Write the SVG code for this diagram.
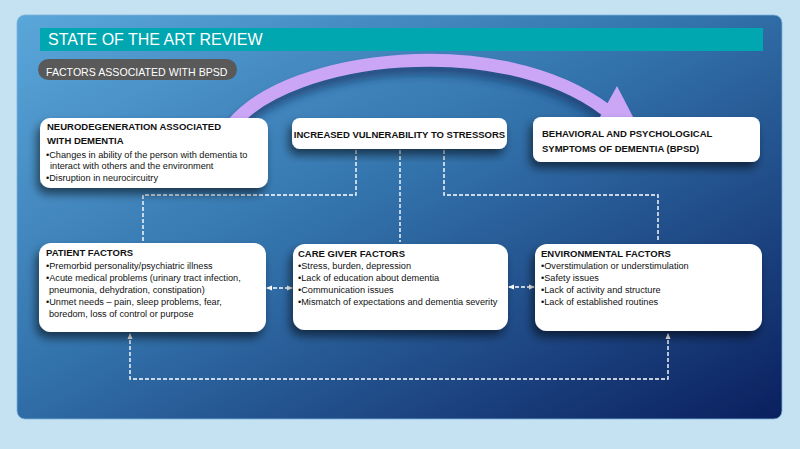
<svg xmlns="http://www.w3.org/2000/svg" width="800" height="449" viewBox="0 0 800 449">
<defs>
<linearGradient id="bg" x1="0" y1="0" x2="1" y2="1">
<stop offset="0" stop-color="#5AA7DA"/>
<stop offset="0.45" stop-color="#3373AC"/>
<stop offset="1" stop-color="#0A1F5E"/>
</linearGradient>
<filter id="sh" x="-20%" y="-30%" width="140%" height="170%">
<feGaussianBlur in="SourceAlpha" stdDeviation="5"/>
<feOffset dx="-3" dy="6" result="b"/>
<feComponentTransfer><feFuncA type="linear" slope="0.55"/></feComponentTransfer>
<feMerge><feMergeNode/><feMergeNode in="SourceGraphic"/></feMerge>
</filter>
<filter id="ash" x="-20%" y="-50%" width="140%" height="200%">
<feGaussianBlur stdDeviation="4"/>
</filter>
<marker id="ah" viewBox="0 0 6 6" refX="5" refY="3" markerWidth="6" markerHeight="6" orient="auto-start-reverse" markerUnits="userSpaceOnUse">
<path d="M0,0.5 L6,3 L0,5.5 z" fill="#FFFFFF"/>
</marker>
<style>
.box{fill:#FFFFFF;filter:url(#sh)}
.hd{font-family:"Liberation Sans",Arial,sans-serif;font-weight:bold;font-size:9.5px;fill:#111111}
.tx{font-family:"Liberation Sans",Arial,sans-serif;font-size:9.2px;fill:#111111}
.dash{fill:none;stroke:#FFFFFF;stroke-width:1.4;stroke-dasharray:4 2}
</style>
</defs>
<rect x="0" y="0" width="800" height="449" fill="#C5E2F3"/>
<rect x="17" y="15" width="765" height="404" rx="8" fill="url(#bg)" stroke="#7FB3DA" stroke-width="0.8"/>
<g id="title">
<rect x="40" y="28" width="723" height="23" fill="#00A6B0"/>
<text x="48" y="45" font-family="'Liberation Sans',Arial,sans-serif" font-size="16" fill="#FFFFFF">STATE OF THE ART REVIEW</text>
</g>
<g id="subtitle">
<rect x="38" y="59" width="199" height="21" rx="10.5" fill="#595959"/>
<text x="46" y="76" font-family="'Liberation Sans',Arial,sans-serif" font-size="10.6" fill="#FFFFFF">FACTORS ASSOCIATED WITH BPSD</text>
</g>
<g id="big-arrow">
<path d="M231 132 C290 63,500 38,606 118" fill="none" stroke="#0E2F5E" stroke-opacity="0.6" stroke-width="13" filter="url(#ash)"/>
<path d="M233 124 C290 55,500 30,606 110" fill="none" stroke="#CBA6F6" stroke-width="13"/>
<polygon points="617,86 645,140 590,135" fill="#CBA6F6"/>
</g>
<g id="connectors">
<path class="dash" d="M356 150 V195 H143 V241"/>
<path class="dash" d="M400 150 V242"/>
<path class="dash" d="M444 150 V195 H658 V242"/>
<path class="dash" d="M267 288 H292" marker-start="url(#ah)" marker-end="url(#ah)"/>
<path class="dash" d="M509 287 H534" marker-start="url(#ah)" marker-end="url(#ah)"/>
<path class="dash" d="M130 334 V379 H668 V334" marker-start="url(#ah)" marker-end="url(#ah)"/>
</g>
<g id="neurodegeneration">
<rect class="box" x="40" y="118" width="228" height="70" rx="10"/>
<text class="hd" x="47" y="130">NEURODEGENERATION ASSOCIATED</text>
<text class="hd" x="47" y="144">WITH DEMENTIA</text>
<text class="tx" x="46" y="158">•Changes in ability of the person with dementia to</text>
<text class="tx" x="50" y="169">interact with others and the environment</text>
<text class="tx" x="46" y="181">•Disruption in neurocircuitry</text>
</g>
<g id="vulnerability">
<rect class="box" x="292" y="118" width="215" height="31" rx="8"/>
<text class="hd" x="399.5" y="138" text-anchor="middle">INCREASED VULNERABILITY TO STRESSORS</text>
</g>
<g id="bpsd">
<rect class="box" x="533" y="117" width="227" height="45" rx="8"/>
<text class="hd" x="542" y="137">BEHAVIORAL AND PSYCHOLOGICAL</text>
<text class="hd" x="542" y="152">SYMPTOMS OF DEMENTIA (BPSD)</text>
</g>
<g id="patient">
<rect class="box" x="39" y="243" width="227" height="89" rx="12"/>
<text class="hd" x="46" y="256">PATIENT FACTORS</text>
<text class="tx" x="46" y="269">•Premorbid personality/psychiatric illness</text>
<text class="tx" x="46" y="281">•Acute medical problems (urinary tract infection,</text>
<text class="tx" x="49" y="293">pneumonia, dehydration, constipation)</text>
<text class="tx" x="46" y="305">•Unmet needs – pain, sleep problems, fear,</text>
<text class="tx" x="49" y="317">boredom, loss of control or purpose</text>
</g>
<g id="caregiver">
<rect class="box" x="293" y="244" width="215" height="86" rx="12"/>
<text class="hd" x="298" y="257">CARE GIVER FACTORS</text>
<text class="tx" x="298" y="269">•Stress, burden, depression</text>
<text class="tx" x="298" y="281">•Lack of education about dementia</text>
<text class="tx" x="298" y="293">•Communication issues</text>
<text class="tx" x="298" y="305">•Mismatch of expectations and dementia severity</text>
</g>
<g id="environmental">
<rect class="box" x="535" y="244" width="227" height="87" rx="12"/>
<text class="hd" x="541" y="257">ENVIRONMENTAL FACTORS</text>
<text class="tx" x="541" y="269">•Overstimulation or understimulation</text>
<text class="tx" x="541" y="281">•Safety issues</text>
<text class="tx" x="541" y="293">•Lack of activity and structure</text>
<text class="tx" x="541" y="305">•Lack of established routines</text>
</g>
</svg>
